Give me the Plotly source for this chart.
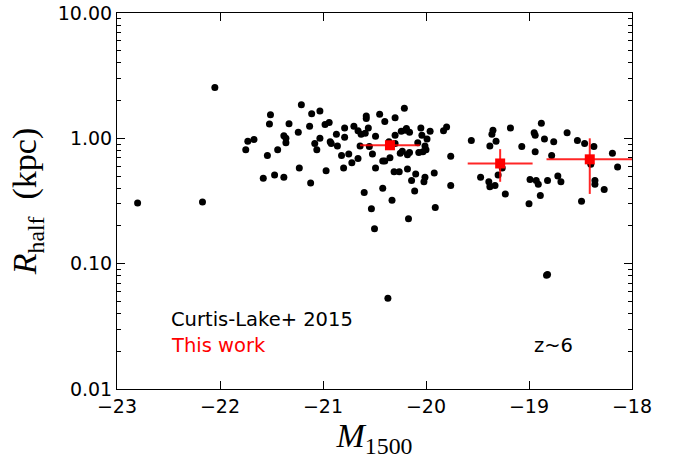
import plotly.graph_objects as go

# Curtis-Lake+ 2015 sample (M1500, R_half in kpc)
cl_m = [-22.80, -22.17, -22.05, -21.75, -21.73, -21.67, -21.58, -21.54, -21.52, -21.51,
        -21.47, -21.44, -21.38, -21.38, -21.36, -21.36, -21.33, -21.24, -21.23, -21.21,
        -21.13, -21.12, -21.11, -21.08, -21.06, -21.03, -21.03, -20.98, -20.97, -20.94,
        -20.93, -20.92, -20.87, -20.86, -20.82, -20.80, -20.79, -20.79, -20.75, -20.72,
        -20.70, -20.66, -20.66, -20.64, -20.63, -20.60, -20.59, -20.58, -20.58, -20.56,
        -20.55, -20.53, -20.52, -20.50, -20.49, -20.49, -20.45, -20.42, -20.42, -20.40,
        -20.40, -20.37, -20.36, -20.35, -20.33, -20.31, -20.30, -20.30, -20.30, -20.26,
        -20.25, -20.24, -20.23, -20.21, -20.20, -20.19, -20.18, -20.18, -20.17, -20.16,
        -20.16, -20.14, -20.11, -20.10, -20.08, -20.07, -20.05, -20.04, -20.03, -20.02,
        -20.01, -20.01, -20.00, -19.99, -19.96, -19.92, -19.91, -19.83, -19.80, -19.76,
        -19.76,
        -19.56, -19.47, -19.38, -19.39, -19.38, -19.36, -19.35, -19.33, -19.32, -19.30,
        -19.26, -19.23, -19.18, -19.07, -19.00, -18.99, -18.95, -18.94, -18.94, -18.93,
        -18.91, -18.89, -18.88, -18.85, -18.83, -18.82, -18.82, -18.78, -18.76, -18.72,
        -18.69, -18.63, -18.53, -18.49, -18.46, -18.40, -18.37, -18.36, -18.36, -18.27,
        -18.19, -18.14]
cl_r = [0.305, 0.311, 2.55, 0.81, 0.95, 0.98, 0.48, 0.73, 1.30, 1.54,
        0.51, 0.81, 0.49, 1.05, 0.92, 1.00, 1.31, 1.12, 0.58, 1.85,
        1.25, 0.44, 1.57, 0.91, 0.81, 1.65, 1.00, 1.29, 0.55, 1.34,
        0.94, 0.91, 1.08, 0.87, 0.73, 0.58, 1.02, 1.21, 0.75, 0.64,
        1.25, 0.69, 1.15, 0.87, 1.08, 0.37, 1.10, 1.51, 1.44, 1.21,
        0.86, 0.274, 0.75, 0.19, 1.04, 0.58, 1.56, 0.40, 0.66, 1.36,
        0.66, 0.053, 0.94, 0.70, 0.32, 0.54, 1.46, 0.91, 1.06, 0.54,
        0.76, 1.14, 0.79, 1.74, 1.16, 1.20, 0.74, 0.57, 0.228, 1.12,
        0.77, 0.46, 0.38, 0.52, 0.92, 0.77, 1.21, 1.06, 0.78, 0.45,
        0.49, 0.87, 0.81, 0.99, 1.14, 0.53, 0.28, 1.15, 1.23, 0.72,
        0.42,
        0.96, 0.49, 0.87, 0.45, 0.41, 1.08, 1.16, 0.42, 0.95, 0.51,
        0.58, 0.36, 1.21, 0.86, 0.30, 0.47, 1.11, 0.78, 1.06, 0.46,
        0.43, 0.35, 1.32, 0.99, 0.081, 0.082, 0.46, 0.73, 0.94, 0.50,
        0.45, 1.11, 0.96, 0.315, 0.91, 0.62, 0.86, 0.46, 0.43, 0.39,
        0.76, 0.59]

# This work (binned)
tw_m = [-20.35, -19.28, -18.41]
tw_r = [0.88, 0.63, 0.68]
tw_mx = [0.29, 0.315, 0.42]
tw_rup = [0.05, 0.19, 0.32]
tw_rdn = [0.05, 0.18, 0.32]

x_ticks = [-23, -22, -21, -20, -19, -18]
x_labels = ["\u221223", "\u221222", "\u221221", "\u221220", "\u221219", "\u221218"]
y_ticks = [0.01, 0.1, 1, 10]
y_labels = ["0.01", "0.10", "1.00", "10.00"]

fig = go.Figure()
fig.add_trace(go.Scatter(x=cl_m, y=cl_r, mode="markers",
                         marker=dict(color="black", size=7, line=dict(width=0)),
                         showlegend=False))
fig.add_trace(go.Scatter(x=tw_m, y=tw_r, mode="markers",
                         marker=dict(color="red", size=10, symbol="square", line=dict(width=0)),
                         error_x=dict(type="data", array=tw_mx, color="rgba(255,0,0,0.85)", thickness=2, width=0),
                         error_y=dict(type="data", array=tw_rup, arrayminus=tw_rdn, symmetric=False,
                                      color="rgba(255,0,0,0.85)", thickness=2, width=0),
                         showlegend=False))

minor_vals = [m * 10 ** e for e in (-2, -1, 0) for m in range(2, 10)]

fig.update_layout(
    width=689, height=464,
    margin=dict(l=117, r=57, t=13, b=75),
    paper_bgcolor="white", plot_bgcolor="white",
    font=dict(family="DejaVu Sans", size=19, color="black"),
    xaxis=dict(range=[-23, -18], tickmode="array", tickvals=x_ticks, ticktext=x_labels,
               ticks="inside", ticklen=8, tickwidth=1, tickcolor="black",
               showline=True, linecolor="black", linewidth=1, mirror="allticks",
               showgrid=False, zeroline=False, automargin=False,
               tickfont=dict(size=19),
               title=dict(text="<i>M</i><sub>1500</sub>", font=dict(family="Liberation Serif", size=34),
                          standoff=4)),
    yaxis=dict(type="log", range=[-2, 1], tickmode="array", tickvals=y_ticks, ticktext=y_labels,
               ticks="inside", ticklen=8, tickwidth=1, tickcolor="black",
               showline=True, linecolor="black", linewidth=1, mirror="allticks",
               showgrid=False, zeroline=False, automargin=False,
               tickfont=dict(size=19),
               minor=dict(tickmode="array", tickvals=minor_vals, ticks="inside", ticklen=4,
                          tickcolor="black", tickwidth=1, showgrid=False),
               title=dict(text="<i>R</i><sub>half</sub>&nbsp;&nbsp;(kpc)", font=dict(family="Liberation Serif", size=34),
                          standoff=10)),
    annotations=[
        dict(x=0.1, y=0.186, xref="paper", yref="paper", xanchor="left", yanchor="middle",
             text="Curtis-Lake+ 2015", showarrow=False, font=dict(size=19.5, color="black")),
        dict(x=0.1, y=0.117, xref="paper", yref="paper", xanchor="left", yanchor="middle",
             text="This work", showarrow=False, font=dict(size=19.5, color="red")),
        dict(x=0.805, y=0.117, xref="paper", yref="paper", xanchor="left", yanchor="middle",
             text="z~6", showarrow=False, font=dict(size=19.5, color="black")),
    ],
)

fig.write_html("out.html")
